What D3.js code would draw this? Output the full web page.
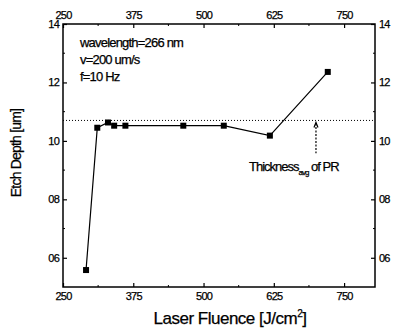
<!DOCTYPE html>
<html>
<head>
<meta charset="utf-8">
<script src="https://cdn.jsdelivr.net/npm/d3@7"></script>
<style>
  body { margin: 0; background: #fff; }
  text { font-family: "Liberation Sans Narrow", "Liberation Sans", Arial, sans-serif; fill: #000; stroke: #000; stroke-width: 0.25px; }
</style>
</head>
<body>
<svg id="chart" width="394" height="332"></svg>
<script>
// data
const fluence = [291, 311, 330, 341, 361, 464, 536, 618, 721];
const depth = [5.58, 10.45, 10.63, 10.52, 10.52, 10.52, 10.52, 10.18, 12.36];
const xTicks = [250, 375, 500, 625, 750];
const yTicks = [6, 8, 10, 12, 14];
const yTickLabels = ["06", "08", "10", "12", "14"];
const thicknessAvg = 10.7;
const notes = ["wavelength=266 nm", "v=200 um/s", "f=10 Hz"];

const svg = d3.select("#chart");
const pLeft = 63, pRight = 375, pTop = 24, pBottom = 287;

const x = d3.scaleLinear().domain([250, 805]).range([pLeft, pRight]);
const y = d3.scaleLinear().domain([5, 14]).range([pBottom, pTop]);

// frame
svg.append("rect")
  .attr("x", pLeft).attr("y", pTop)
  .attr("width", pRight - pLeft).attr("height", pBottom - pTop)
  .attr("fill", "none").attr("stroke", "#000").attr("stroke-width", 1.5);

const xMinor = d3.range(312.5, 805, 125);
const yMinor = [7, 9, 11, 13];

// axes with inward ticks
const bottomAxis = d3.axisBottom(x).tickValues(xTicks).tickSize(-4).tickPadding(5).tickFormat(d3.format("d"));
const topAxis = d3.axisTop(x).tickValues(xTicks).tickSize(-4).tickPadding(5).tickFormat(d3.format("d"));
const leftAxis = d3.axisLeft(y).tickValues(yTicks).tickSize(-4).tickPadding(4).tickFormat((d, i) => yTickLabels[i]);
const rightAxis = d3.axisRight(y).tickValues(yTicks).tickSize(-4).tickPadding(4).tickFormat((d, i) => yTickLabels[i]);

function styleAxis(g) {
  g.select(".domain").remove();
  g.selectAll("line").attr("stroke", "#000").attr("stroke-width", 1.2);
  g.selectAll("text").attr("font-size", 11).attr("letter-spacing", "-0.8px");
}

svg.append("g").attr("transform", `translate(0,${pBottom})`).call(bottomAxis).call(styleAxis);
svg.append("g").attr("transform", `translate(0,${pTop})`).call(topAxis).call(styleAxis);
svg.append("g").attr("transform", `translate(${pLeft},0)`).call(leftAxis).call(styleAxis);
svg.append("g").attr("transform", `translate(${pRight},0)`).call(rightAxis).call(styleAxis);

// minor ticks
const minor = svg.append("g").attr("stroke", "#000").attr("stroke-width", 1);
xMinor.forEach(v => {
  minor.append("line").attr("x1", x(v)).attr("x2", x(v)).attr("y1", pBottom).attr("y2", pBottom - 2);
  minor.append("line").attr("x1", x(v)).attr("x2", x(v)).attr("y1", pTop).attr("y2", pTop + 2);
});
yMinor.forEach(v => {
  minor.append("line").attr("x1", pLeft).attr("x2", pLeft + 2).attr("y1", y(v)).attr("y2", y(v));
  minor.append("line").attr("x1", pRight).attr("x2", pRight - 2).attr("y1", y(v)).attr("y2", y(v));
});

// average thickness dotted line
svg.append("line")
  .attr("x1", pLeft).attr("x2", pRight)
  .attr("y1", y(thicknessAvg)).attr("y2", y(thicknessAvg))
  .attr("stroke", "#000").attr("stroke-width", 1)
  .attr("stroke-dasharray", "1,2");

// data line and markers
const pts = fluence.map((f, i) => ({ f: f, d: depth[i] }));
const line = d3.line().x(d => x(d.f)).y(d => y(d.d));
svg.append("path")
  .attr("d", line(pts))
  .attr("fill", "none").attr("stroke", "#000").attr("stroke-width", 1.2);

svg.selectAll("rect.pt")
  .data(pts)
  .enter()
  .append("rect")
  .attr("class", "pt")
  .attr("x", d => x(d.f) - 3)
  .attr("y", d => y(d.d) - 3)
  .attr("width", 6).attr("height", 6)
  .attr("fill", "#000");

// arrow to the dotted line
const ax = x(700);
svg.append("line")
  .attr("x1", ax).attr("x2", ax)
  .attr("y1", y(thicknessAvg) + 3).attr("y2", y(9.58))
  .attr("stroke", "#000").attr("stroke-width", 1.2)
  .attr("stroke-dasharray", "2,1.5");
svg.append("path")
  .attr("d", `M${ax - 2},${y(thicknessAvg) + 7} L${ax},${y(thicknessAvg) + 2} L${ax + 2},${y(thicknessAvg) + 7}`)
  .attr("fill", "none").attr("stroke", "#000").attr("stroke-width", 1.2);

const ann = svg.append("text")
  .attr("x", 249).attr("y", 171)
  .attr("font-size", 13).attr("letter-spacing", "-1px");
ann.append("tspan").text("Thickness");
ann.append("tspan").attr("font-size", 8).attr("dy", 4).text("avg");
ann.append("tspan").attr("dy", -4).text(" of PR");

// notes
svg.selectAll("text.note")
  .data(notes)
  .enter()
  .append("text")
  .attr("class", "note")
  .attr("x", 80)
  .attr("y", (d, i) => 47 + i * 17)
  .attr("font-size", 13)
  .attr("letter-spacing", "-0.8px")
  .text(d => d);

// axis titles
svg.append("text")
  .attr("x", 230).attr("y", 324)
  .attr("text-anchor", "middle")
  .attr("font-size", 17).attr("letter-spacing", "-0.5px")
  .html("Laser Fluence [J/cm<tspan dy='-7' font-size='10'>2</tspan><tspan dy='7'>]</tspan>");

svg.append("text")
  .attr("transform", "translate(21,153) rotate(-90)")
  .attr("text-anchor", "middle")
  .attr("font-size", 14).attr("letter-spacing", "-0.8px")
  .text("Etch Depth [um]");
</script>
</body>
</html>
